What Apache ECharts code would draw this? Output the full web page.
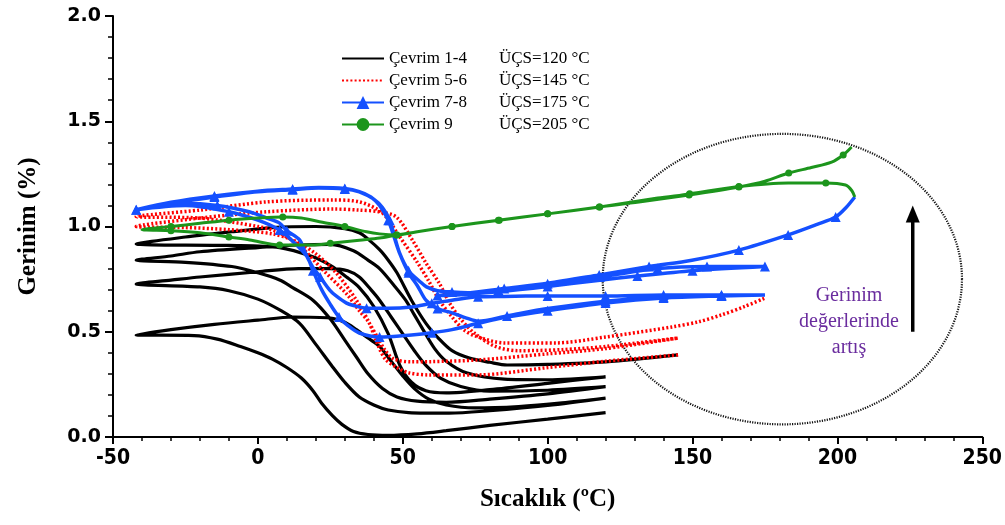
<!DOCTYPE html>
<html>
<head>
<meta charset="utf-8">
<script src="https://cdn.jsdelivr.net/npm/echarts@6/dist/echarts.min.js"></script>
<style>
  html, body { margin: 0; padding: 0; background: #fff; }
  #chart { width: 1005px; height: 525px; }
</style>
</head>
<body>
<div id="chart"></div>
<script>
// legend labels
const cycleNames = ['Çevrim 1-4', 'Çevrim 5-6', 'Çevrim 7-8', 'Çevrim 9'];
const ucsLabels = ['ÜÇS=120 °C', 'ÜÇS=145 °C', 'ÜÇS=175 °C', 'ÜÇS=205 °C'];

// cycles 1-4 (black): [temperature °C, strain %]
const c1Cool = [[120,0.116],[100,0.085],[80,0.055],[65,0.03],[55,0.015],[45,0.008],[38,0.012],[33,0.026],[29,0.06],[25.8,0.1],[22,0.16],[19,0.22],[15,0.28],[10,0.33],[5,0.37],[0,0.4],[-6,0.43],[-14,0.465],[-22,0.482],[-42,0.485]];
const c1Heat = [[-42,0.485],[-30,0.51],[-15,0.535],[0,0.555],[12,0.57],[25,0.565],[30,0.545],[34,0.51],[38,0.47],[42,0.43],[46,0.36],[50,0.29],[54,0.23],[59,0.18],[65,0.152],[75,0.138],[90,0.145],[105,0.162],[120,0.185]];
const c2Cool = [[120,0.185],[100,0.15],[80,0.125],[66,0.113],[52,0.116],[45,0.128],[40,0.152],[35,0.19],[30,0.26],[25.8,0.333],[20,0.44],[14.4,0.54],[8,0.6],[0,0.655],[-10,0.695],[-20,0.713],[-42,0.727]];
const c2Heat = [[-42,0.727],[-30,0.745],[-20,0.76],[0,0.785],[14,0.8],[25,0.8],[31,0.79],[35,0.76],[39,0.7],[42,0.65],[46,0.57],[50,0.49],[54,0.41],[58,0.34],[63,0.28],[70,0.24],[80,0.218],[100,0.222],[120,0.239]];
const c3Cool = [[120,0.239],[100,0.205],[80,0.18],[65,0.165],[55,0.17],[48,0.19],[43,0.23],[38,0.3],[34,0.38],[30,0.46],[25,0.56],[19,0.65],[12,0.71],[7.5,0.746],[0,0.78],[-9,0.81],[-25,0.83],[-42,0.84]];
const c3Heat = [[-42,0.84],[-30,0.86],[-20,0.88],[0,0.9],[14,0.912],[25,0.915],[33,0.885],[38,0.84],[42,0.8],[47,0.72],[51,0.65],[54,0.58],[57,0.51],[61,0.42],[65,0.36],[72,0.305],[85,0.275],[100,0.272],[120,0.286]];
const c4Cool = [[120,0.286],[100,0.255],[80,0.225],[65,0.21],[58,0.22],[53,0.26],[49,0.34],[45,0.49],[40,0.62],[35,0.71],[30.6,0.76],[25,0.815],[19,0.856],[7.5,0.9],[-10,0.91],[-42,0.917]];
const c4Heat = [[-42,0.917],[-25,0.95],[-9,0.975],[5,0.995],[20,1.0],[30,0.99],[35,0.97],[38,0.94],[42,0.89],[45,0.84],[48,0.78],[53,0.65],[58,0.54],[62.6,0.465],[67,0.41],[73,0.375],[80,0.355],[86,0.342],[100,0.345],[120,0.357],[145,0.39]];

// cycles 5-6 (red dotted)
const c5Cool = [[145,0.39],[120,0.36],[100,0.33],[76,0.295],[59,0.295],[52,0.305],[48,0.33],[44,0.37],[41,0.45],[38.5,0.54],[34,0.65],[27,0.78],[20,0.87],[13,0.93],[5,0.965],[-10,0.985],[-25,0.995],[-42,1.0]];
const c5Heat = [[-42,1.0],[-20,1.04],[3,1.07],[26,1.083],[35,1.078],[42,1.07],[47.8,1.045],[53.3,0.936],[58,0.827],[62.6,0.73],[66,0.64],[70,0.56],[75,0.49],[82,0.43],[90,0.41],[105,0.415],[120,0.43],[145,0.47]];
const c6Cool = [[145,0.47],[120,0.42],[100,0.395],[76,0.366],[60,0.358],[53,0.357],[47,0.37],[44,0.41],[41,0.48],[38,0.55],[35,0.6],[30.6,0.68],[22,0.8],[15,0.9],[7.5,0.97],[0,1.0],[-20,1.04],[-42,1.047]];
const c6Heat = [[-42,1.047],[-20,1.078],[3,1.117],[25.8,1.126],[35,1.117],[43,1.064],[49,0.95],[55,0.83],[59,0.74],[62.6,0.65],[67,0.57],[71,0.51],[75,0.48],[85,0.447],[103,0.447],[120,0.475],[143,0.523],[152,0.547],[160,0.58],[168,0.62],[175,0.66]];

// cycles 7-8 (blue, triangles)
const c7Cool = [[175,0.675],[160,0.67],[140,0.66],[120,0.636],[100,0.6],[86,0.57],[76,0.54],[67,0.51],[60,0.495],[53,0.485],[42,0.475],[35,0.494],[31,0.53],[28,0.57],[25,0.63],[22,0.7],[19,0.79],[17,0.856],[12,0.93],[7.5,0.983],[0,1.03],[-10,1.07],[-25,1.1],[-42,1.08]];
const c7Heat = [[-42,1.08],[-30,1.11],[-15,1.14],[0,1.165],[12,1.175],[21,1.183],[30,1.178],[35,1.165],[39,1.14],[42,1.1],[45,1.03],[47,0.95],[49,0.87],[52,0.78],[55,0.72],[58,0.65],[62,0.61],[67,0.59],[72,0.565],[76,0.55],[86,0.575],[100,0.61],[120,0.645],[140,0.665],[160,0.672],[175,0.675]];
const c8Cool = [[175,0.675],[160,0.675],[140,0.675],[120,0.67],[100,0.67],[85,0.668],[76,0.666],[67,0.65],[60,0.635],[53,0.618],[45,0.612],[37.5,0.612],[33,0.625],[30.6,0.636],[27,0.67],[24.8,0.698],[21.5,0.76],[18.9,0.808],[16.5,0.87],[14.4,0.936],[10,0.98],[7.5,1.016],[3,1.04],[-3,1.07],[-14,1.1],[-26,1.11],[-42,1.08]];
const c8Heat = [[-42,1.08],[-30,1.115],[-15,1.145],[0,1.168],[12,1.178],[21,1.185],[30,1.18],[35,1.165],[40,1.13],[43,1.09],[45.5,1.03],[47,0.96],[48.9,0.874],[52,0.79],[55.8,0.74],[58.2,0.713],[62,0.695],[67,0.689],[76,0.684],[83,0.698],[100,0.728],[118,0.76],[138,0.8],[155,0.81],[175,0.81]];
const c8Back = [[175,0.81],[150,0.79],[131,0.765],[118,0.745],[100,0.715],[83,0.69],[70,0.676],[62,0.672]];
const c8Final = [[62,0.672],[70,0.68],[85,0.705],[100,0.73],[117.8,0.77],[135,0.81],[149.8,0.84],[166,0.888],[183,0.96],[193,1.01],[199.4,1.045],[203,1.09],[206,1.14]];

// cycle 9 (green, circles)
const c9Cool = [[206,1.14],[205,1.17],[202.8,1.197],[196,1.207],[183,1.207],[166,1.19],[149,1.155],[138,1.135],[118,1.093],[100,1.06],[83,1.03],[67,1.0],[55,0.975],[48,0.96],[42,0.945],[35,0.935],[25,0.92],[18.9,0.912],[7.5,0.912],[-2.8,0.936],[-10,0.95],[-20,0.97],[-30,0.98],[-40,0.985]];
const c9Heat = [[-40,0.985],[-30,1.0],[-20,1.015],[-10,1.03],[0,1.04],[8.6,1.045],[15,1.04],[22.3,1.02],[30,1.0],[37.5,0.975],[42,0.965],[47.8,0.96],[55,0.975],[67,1.0],[83.3,1.03],[100,1.06],[117.8,1.093],[131.5,1.116],[148.8,1.15],[166,1.188],[175,1.215],[183.2,1.254],[191,1.28],[198,1.306],[202,1.34],[204.9,1.378]];

// annotation (data units)
const ellipseCenter = [181, 0.75];
const ellipseRadius = [62, 0.69];
const arrowFrom = [226, 0.5];
const arrowTo = [226, 1.1];
const noteAt = [204, 0.546];
const noteText = 'Gerinim\ndeğerlerinde\nartış';

const pxPerX = (1005 - 113 - 21) / 300;
const pxPerY = (525 - 16 - 88) / 2;

// put a marker roughly every gap pixels along the path
function withMarkers(pts, gap) {
  let acc = gap * 0.6;
  return pts.map((p, i) => {
    if (i > 0) {
      acc += Math.hypot((p[0] - pts[i - 1][0]) * pxPerX, (p[1] - pts[i - 1][1]) * pxPerY);
    }
    if (acc >= gap) { acc = 0; return { value: p }; }
    return { value: p, symbol: 'none' };
  });
}

const blackPath = [].concat(c1Cool, c1Heat, c2Cool, c2Heat, c3Cool, c3Heat, c4Cool, c4Heat);
const redPath = [].concat(c5Cool, c5Heat, c6Cool, c6Heat);
const bluePath = [].concat(c7Cool, c7Heat, c8Cool, c8Heat, c8Back, c8Final);
const greenPath = [].concat(c9Cool, c9Heat);

const myChart = echarts.init(document.getElementById('chart'));

const tickFont = { color: '#000', fontWeight: 'bold' };

const option = {
  animation: false,
  grid: { left: 113, right: 21, top: 16, bottom: 88 },
  legend: {
    // black and red entries have no marker: hide the default dot
    data: cycleNames.map((n, i) => i < 2 ? { name: n, itemStyle: { color: 'rgba(0,0,0,0)' } } : { name: n }),
    orient: 'vertical',
    left: 336,
    top: 45,
    itemWidth: 42,
    itemHeight: 16,
    itemGap: 5,
    formatter: function (name) {
      const i = cycleNames.indexOf(name);
      return '{a|' + name + '}{b|' + ucsLabels[i] + '}';
    },
    textStyle: {
      fontFamily: 'Liberation Serif',
      fontSize: 17,
      color: '#000',
      rich: {
        a: { width: 110, fontFamily: 'Liberation Serif', fontSize: 17 },
        b: { fontFamily: 'Liberation Serif', fontSize: 17 }
      }
    }
  },
  xAxis: {
    type: 'value',
    min: -50, max: 250, interval: 50,
    name: 'Sıcaklık (ºC)',
    nameLocation: 'middle',
    nameGap: 50,
    nameTextStyle: { fontFamily: 'Liberation Serif', fontWeight: 'bold', fontSize: 25, color: '#000' },
    axisLine: { onZero: false, lineStyle: { color: '#000', width: 2 } },
    axisTick: { length: 7, lineStyle: { width: 2 } },
    minorTick: { show: true, splitNumber: 5, length: 4, lineStyle: { color: '#000', width: 1.5 } },
    splitLine: { show: false },
    axisLabel: Object.assign({ fontFamily: 'Liberation Sans Narrow, DejaVu Sans Condensed, sans-serif', fontSize: 21, margin: 11 }, tickFont)
  },
  yAxis: {
    type: 'value',
    min: 0, max: 2, interval: 0.5,
    name: 'Gerinim (%)',
    nameLocation: 'middle',
    nameGap: 72,
    nameTextStyle: { fontFamily: 'Liberation Serif', fontWeight: 'bold', fontSize: 25, color: '#000' },
    axisLine: { show: true, onZero: false, lineStyle: { color: '#000', width: 2 } },
    axisTick: { show: true, length: 8, lineStyle: { width: 2 } },
    minorTick: { show: true, splitNumber: 5, length: 5, lineStyle: { color: '#000', width: 1.5 } },
    splitLine: { show: false },
    axisLabel: Object.assign({ fontFamily: 'DejaVu Sans', fontSize: 19, margin: 12, formatter: v => v.toFixed(1) }, tickFont)
  },
  series: [
    {
      name: cycleNames[0], type: 'line', data: blackPath, smooth: 0.3,
      symbol: 'none', lineStyle: { color: '#000', width: 3.2 }, itemStyle: { color: '#000' }
    },
    {
      name: cycleNames[1], type: 'line', data: redPath, smooth: 0.3,
      symbol: 'none', lineStyle: { color: '#ff0000', width: 3.5, type: [2, 2.2] }, itemStyle: { color: '#ff0000' }
    },
    {
      name: cycleNames[2], type: 'line', data: withMarkers(bluePath, 45), smooth: 0.3,
      symbol: 'triangle', symbolSize: 10, showAllSymbol: true,
      lineStyle: { color: '#1450ff', width: 3.5 }, itemStyle: { color: '#1450ff' }
    },
    {
      name: cycleNames[3], type: 'line', data: withMarkers(greenPath, 45), smooth: 0.3,
      symbol: 'circle', symbolSize: 7, showAllSymbol: true,
      lineStyle: { color: '#1c951c', width: 3 }, itemStyle: { color: '#1c951c' }
    },
    {
      // dotted ellipse around the high-temperature ends
      type: 'custom', silent: true, z: 1,
      data: [ellipseCenter],
      renderItem: function (params, api) {
        const c = api.coord(ellipseCenter);
        const r = api.size(ellipseRadius);
        const pts = [];
        for (let k = 0; k <= 180; k++) {
          const t = k / 180 * Math.PI * 2;
          pts.push([c[0] + r[0] * Math.cos(t), c[1] + r[1] * Math.sin(t)]);
        }
        return { type: 'polyline', shape: { points: pts }, style: { stroke: '#111', lineWidth: 2.2, lineDash: [1.2, 1.3], fill: null } };
      }
    },
    {
      // arrow + note
      type: 'custom', silent: true, z: 5,
      data: [arrowFrom],
      renderItem: function (params, api) {
        const a = api.coord(arrowFrom);
        const b = api.coord(arrowTo);
        const t = api.coord(noteAt);
        return {
          type: 'group',
          children: [
            { type: 'line', shape: { x1: a[0], y1: a[1], x2: b[0], y2: b[1] + 14 }, style: { stroke: '#000', lineWidth: 3.5 } },
            { type: 'polygon', shape: { points: [[b[0], b[1]], [b[0] - 7, b[1] + 17], [b[0] + 7, b[1] + 17]] }, style: { fill: '#000' } },
            { type: 'text', x: t[0], y: t[1], style: { text: noteText, font: '20px "Liberation Serif"', fill: '#6a2c9e', align: 'center', verticalAlign: 'middle', lineHeight: 26 } }
          ]
        };
      }
    }
  ]
};

myChart.setOption(option);

window.addEventListener('resize', () => {
  myChart.resize();
});
</script>
</body>
</html>
